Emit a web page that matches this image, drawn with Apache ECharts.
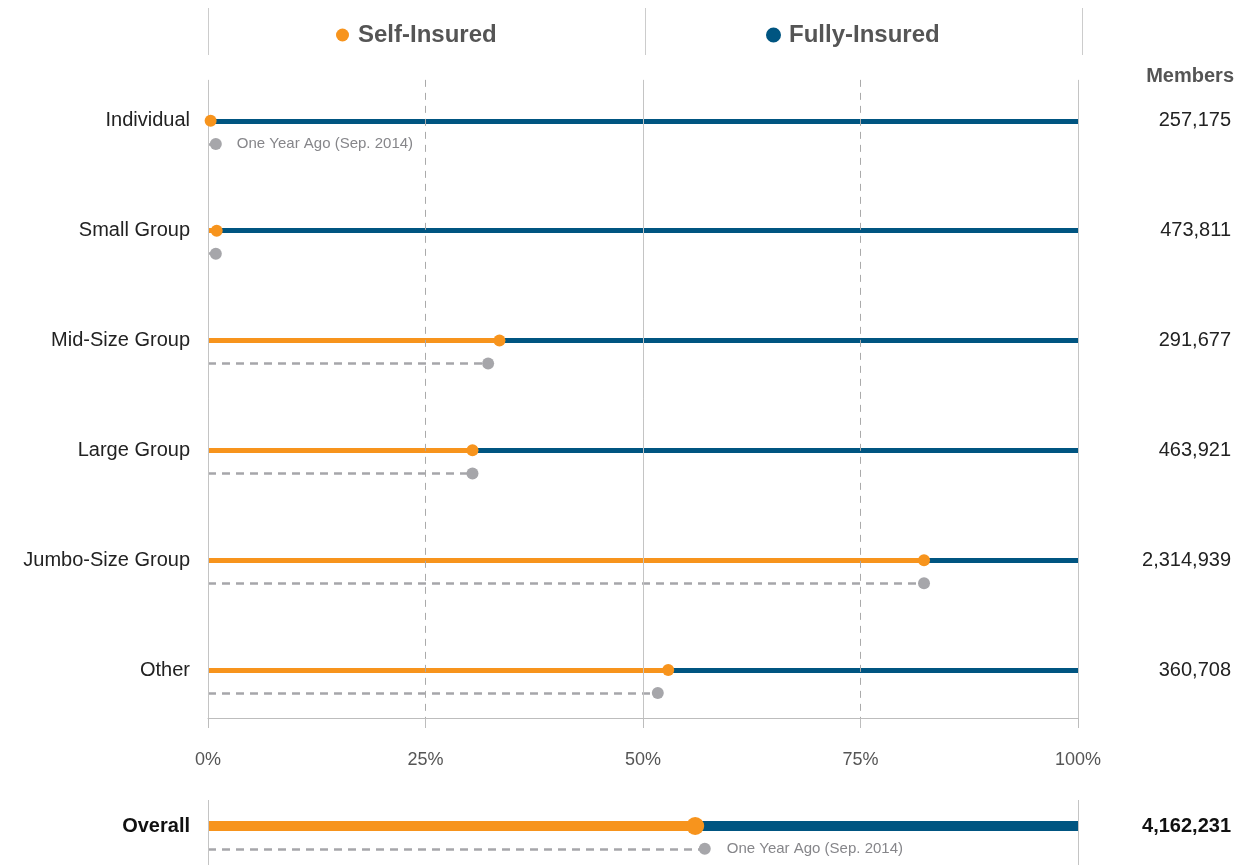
<!DOCTYPE html>
<html>
<head>
<meta charset="utf-8">
<script src="https://cdn.jsdelivr.net/npm/echarts@6/dist/echarts.min.js"></script>
<style>
  html, body { margin: 0; padding: 0; background: #fff; }
  #chart { width: 1243px; height: 865px; }
</style>
</head>
<body>
<div id="chart"></div>
<script>
// 各类客户
const categories = ['Individual', 'Small Group', 'Mid-Size Group', 'Large Group', 'Jumbo-Size Group', 'Other'];
const members = ['257,175', '473,811', '291,677', '463,921', '2,314,939', '360,708'];
// 自保比例 (%)
const selfInsured = [0.3, 1.0, 33.5, 30.4, 82.3, 52.9];
const selfInsuredYearAgo = [0.9, 0.9, 32.2, 30.4, 82.3, 51.7];
// 总计
const overallLabel = 'Overall';
const overallMembers = '4,162,231';
const overallSelf = 56.0;
const overallYearAgo = 57.1;
const xTicks = [0, 25, 50, 75, 100];
const yearAgoText = 'One Year Ago (Sep. 2014)';

const ORANGE = '#f7941d';
const BLUE = '#005581';
const GRAY = '#a6a6aa';
const FONT = '"Liberation Sans", Arial, sans-serif';
const SUB = 0.21; // 一年前那行往下挪一点

let myChart = echarts.init(document.getElementById('chart'));

let orangeLines = [], blueLines = [], grayLines = [], nowDots = [], agoDots = [];
for (let i = 0; i < categories.length; i++) {
    orangeLines.push({ coords: [[0, i], [selfInsured[i], i]] });
    blueLines.push({ coords: [[selfInsured[i], i], [100, i]] });
    grayLines.push({ coords: [[0, i + SUB], [selfInsuredYearAgo[i], i + SUB]] });
    nowDots.push([selfInsured[i], i]);
    let d = { value: [selfInsuredYearAgo[i], i + SUB] };
    if (i === 0) {
        d.label = { show: true, formatter: yearAgoText, position: 'right', distance: 15, color: '#86868a', fontSize: 15, fontFamily: FONT };
    }
    agoDots.push(d);
}

// 网格竖线
let gridMarks = xTicks.map(function (x) {
    let dashed = (x === 25 || x === 75);
    return [
        { coord: [x, -0.373], lineStyle: { color: dashed ? '#aaa' : '#c4c4c4', type: dashed ? [7, 6] : 'solid', width: 1 } },
        { coord: [x, 5.437] }
    ];
});

let legendText = { fontSize: 24, fontWeight: 'bold', color: '#555', fontFamily: FONT, padding: [0, 0, 0, 4] };

let option = {
    animation: false,
    textStyle: { fontFamily: FONT },
    legend: [
        {
            data: ['Self-Insured'], left: 331, top: 18, icon: 'circle', itemWidth: 13, itemHeight: 13,
            selectedMode: false, textStyle: legendText
        },
        {
            data: ['Fully-Insured'], left: 761, top: 18, icon: 'circle', itemWidth: 13, itemHeight: 13,
            selectedMode: false, textStyle: legendText
        }
    ],
    title: {
        text: 'Members', right: 4, top: 61,
        textStyle: { fontSize: 20, fontWeight: 'bold', color: '#555', fontFamily: FONT }
    },
    graphic: [208.5, 645.5, 1082.5].map(function (x) {
        return { type: 'line', shape: { x1: x, y1: 8, x2: x, y2: 55 }, style: { stroke: '#ccc', lineWidth: 1 }, silent: true };
    }),
    grid: [
        { left: 208, right: 165, top: 11, bottom: 147 },
        { left: 208, right: 165, top: 800, bottom: 0 }
    ],
    xAxis: [
        {
            gridIndex: 0, type: 'value', min: 0, max: 100, interval: 25,
            axisLine: { show: true, onZero: false, lineStyle: { color: '#bdbdbd' } },
            axisTick: { show: true, length: 10, lineStyle: { color: '#bdbdbd' } },
            splitLine: { show: false },
            axisLabel: { formatter: '{value}%', color: '#555', fontSize: 18, margin: 33, fontFamily: FONT }
        },
        { gridIndex: 1, type: 'value', min: 0, max: 100, show: false }
    ],
    yAxis: [
        {
            gridIndex: 0, type: 'value', inverse: true, min: -1, max: 5.437, interval: 1,
            axisLine: { show: false }, axisTick: { show: false }, splitLine: { show: false },
            axisLabel: {
                margin: 18, color: '#222', fontSize: 20, fontFamily: FONT, showMaxLabel: false,
                formatter: function (v) { return categories[Math.round(v)] || ''; }
            }
        },
        {
            gridIndex: 0, type: 'value', position: 'right', inverse: true, min: -1, max: 5.437, interval: 1,
            axisLine: { show: false }, axisTick: { show: false }, splitLine: { show: false },
            axisLabel: {
                margin: 153, align: 'right', color: '#222', fontSize: 20, fontFamily: FONT, showMaxLabel: false,
                formatter: function (v) { return members[Math.round(v)] || ''; }
            }
        },
        {
            gridIndex: 1, type: 'value', inverse: true, min: -0.24, max: 0.36, interval: 0.24,
            axisLine: { show: false }, axisTick: { show: false }, splitLine: { show: false },
            axisLabel: {
                margin: 18, color: '#111', fontSize: 20, fontWeight: 'bold', fontFamily: FONT,
                formatter: function (v) { return Math.abs(v) < 1e-6 ? overallLabel : ''; }
            }
        },
        {
            gridIndex: 1, type: 'value', position: 'right', inverse: true, min: -0.24, max: 0.36, interval: 0.24,
            axisLine: { show: false }, axisTick: { show: false }, splitLine: { show: false },
            axisLabel: {
                margin: 153, align: 'right', color: '#111', fontSize: 20, fontWeight: 'bold', fontFamily: FONT,
                formatter: function (v) { return Math.abs(v) < 1e-6 ? overallMembers : ''; }
            }
        }
    ],
    series: [
        {
            name: 'Self-Insured', type: 'scatter', xAxisIndex: 0, yAxisIndex: 0, z: 5,
            symbolSize: 12, itemStyle: { color: ORANGE, opacity: 1 }, data: nowDots
        },
        {
            name: 'Fully-Insured', type: 'lines', coordinateSystem: 'cartesian2d', xAxisIndex: 0, yAxisIndex: 0, z: 2,
            itemStyle: { color: BLUE }, lineStyle: { color: BLUE, width: 5, opacity: 1 }, data: blueLines,
            markLine: { silent: true, symbol: ['none', 'none'], label: { show: false }, data: gridMarks }
        },
        {
            name: 'Self-Insured', type: 'lines', coordinateSystem: 'cartesian2d', xAxisIndex: 0, yAxisIndex: 0, z: 3,
            lineStyle: { color: ORANGE, width: 5, opacity: 1 }, data: orangeLines
        },
        {
            name: 'yearAgoLine', type: 'lines', coordinateSystem: 'cartesian2d', xAxisIndex: 0, yAxisIndex: 0, z: 3,
            lineStyle: { color: GRAY, width: 2.5, type: [8, 6], opacity: 1 }, data: grayLines
        },
        {
            name: 'yearAgo', type: 'scatter', xAxisIndex: 0, yAxisIndex: 0, z: 5,
            symbolSize: 12, itemStyle: { color: GRAY, opacity: 1 }, data: agoDots
        },
        // 总计那一行
        {
            name: 'Fully-Insured', type: 'lines', coordinateSystem: 'cartesian2d', xAxisIndex: 1, yAxisIndex: 2, z: 2,
            lineStyle: { color: BLUE, width: 10, opacity: 1 },
            data: [{ coords: [[overallSelf, 0], [100, 0]] }],
            markLine: {
                silent: true, symbol: ['none', 'none'], label: { show: false },
                lineStyle: { color: '#c4c4c4', type: 'solid', width: 1 },
                data: [0, 100].map(function (x) { return [{ coord: [x, -0.24] }, { coord: [x, 0.36] }]; })
            }
        },
        {
            name: 'Self-Insured', type: 'lines', coordinateSystem: 'cartesian2d', xAxisIndex: 1, yAxisIndex: 2, z: 3,
            lineStyle: { color: ORANGE, width: 10, opacity: 1 },
            data: [{ coords: [[0, 0], [overallSelf, 0]] }]
        },
        {
            name: 'yearAgoLine', type: 'lines', coordinateSystem: 'cartesian2d', xAxisIndex: 1, yAxisIndex: 2, z: 3,
            lineStyle: { color: GRAY, width: 2.5, type: [8, 6], opacity: 1 },
            data: [{ coords: [[0, SUB], [overallYearAgo, SUB]] }]
        },
        {
            name: 'Self-Insured', type: 'scatter', xAxisIndex: 1, yAxisIndex: 2, z: 5,
            symbolSize: 18, itemStyle: { color: ORANGE, opacity: 1 }, data: [[overallSelf, 0]]
        },
        {
            name: 'yearAgo', type: 'scatter', xAxisIndex: 1, yAxisIndex: 2, z: 5,
            symbolSize: 12, itemStyle: { color: GRAY, opacity: 1 },
            data: [{
                value: [overallYearAgo, SUB],
                label: { show: true, formatter: yearAgoText, position: 'right', distance: 16, color: '#86868a', fontSize: 15, fontFamily: FONT }
            }]
        }
    ]
};

myChart.setOption(option, true);
window.addEventListener('resize', function () {
    myChart.resize();
});
</script>
</body>
</html>
